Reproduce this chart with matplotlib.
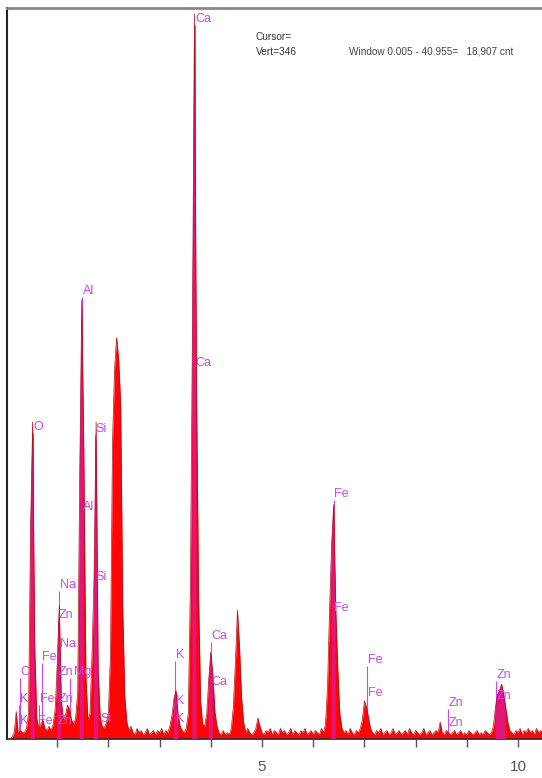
import matplotlib
matplotlib.use("Agg")
import matplotlib.pyplot as plt
from matplotlib import font_manager
import numpy as np

# ---------------- data ----------------
energy_step = 0.04  # keV per channel
# counts per channel, one row per keV (0.00 .. 10.48 keV)
counts_0 = [0, 0, 0, 1, 3, 13, 2, 4, 3, 3, 5, 12, 100, 150, 45, 10, 5, 7, 9, 5, 4, 6, 4, 7, 14]
counts_1 = [35, 63, 18, 9, 11, 16, 14, 9, 7, 10, 22, 125, 208, 135, 30, 9, 12, 40, 77, 150, 32, 10, 6, 5, 8]
counts_2 = [12, 40, 140, 175, 190, 180, 158, 62, 20, 8, 4, 6, 3, 2, 5, 3, 4, 2, 3, 5, 2, 3, 4, 2, 4]
counts_3 = [3, 5, 2, 4, 3, 6, 11, 19, 23, 12, 6, 4, 3, 5, 12, 70, 190, 343, 170, 70, 18, 7, 6, 12, 28]
counts_4 = [41, 30, 13, 6, 3, 2, 4, 2, 3, 2, 5, 15, 36, 61, 44, 20, 8, 3, 5, 3, 2, 3, 5, 10, 6]
counts_5 = [3, 2, 4, 3, 5, 2, 4, 3, 2, 5, 3, 4, 2, 3, 5, 2, 4, 3, 2, 4, 3, 5, 2, 3, 4]
counts_6 = [2, 4, 3, 2, 5, 3, 7, 25, 62, 92, 111, 62, 33, 12, 5, 3, 4, 2, 5, 3, 2, 4, 3, 5, 9]
counts_7 = [18, 15, 10, 5, 3, 2, 4, 3, 5, 2, 3, 4, 2, 3, 5, 2, 3, 4, 2, 3, 4, 2, 5, 3, 2]
counts_8 = [4, 3, 2, 3, 5, 2, 3, 4, 2, 3, 4, 3, 8, 3, 2, 4, 3, 2, 3, 4, 2, 3, 4, 2, 3]
counts_9 = [2, 4, 3, 2, 3, 4, 2, 3, 2, 4, 3, 2, 3, 6, 15, 21, 23, 26, 21, 15, 8, 4, 3, 2, 4]
counts_10 = [3, 5, 2, 4, 3, 5, 3, 4, 2, 5, 3, 4, 3]

# identified peak labels: element, line energy (keV), label height (counts)
label_text = ["Ca", "Ca", "Al", "Al", "Si", "Si", "O", "Na", "Zn", "Na", "Zn", "Mg",
              "Zn", "C", "K", "K", "Fe", "Fe", "Fe", "Zn", "Si",
              "K", "K", "K", "Ca", "Ca", "Fe", "Fe", "Fe", "Fe",
              "Zn", "Zn", "Zn", "Zn"]
label_energy = [3.69, 3.69, 1.49, 1.49, 1.74, 1.74, 0.525, 1.04, 1.01, 1.04, 1.01, 1.25,
                1.01, 0.277, 0.26, 0.26, 0.70, 0.65, 0.62, 0.99, 1.84,
                3.31, 3.31, 3.31, 4.01, 4.01, 6.40, 6.40, 7.06, 7.06,
                8.63, 8.63, 9.57, 9.57]
label_height = [338, 175, 209, 107, 144, 74, 145, 70, 56, 42, 29, 29,
                16, 29, 16, 5.7, 36, 16, 5.7, 5.7, 6.6,
                37, 15, 6.6, 46, 24, 113, 59, 34.5, 19,
                14, 4.7, 27.5, 17.5]

# highlighted (identified) peak regions, keV
highlight_ranges = [(0.48, 0.56), (1.00, 1.08), (1.44, 1.52), (1.72, 1.80),
                    (3.28, 3.36), (3.64, 3.72), (3.96, 4.04), (6.36, 6.44), (9.56, 9.76)]

tick_values = [1, 2, 3, 4, 5, 6, 7, 8, 9, 10]
tick_labels = ["", "", "", "", "5", "", "", "", "", "10"]

cursor_lines = ["Cursor=", "Vert=346"]
window_text = "Window 0.005 - 40.955=   18,907 cnt"
y_full_scale = 346

# ---------------- build ----------------
counts = np.array(counts_0 + counts_1 + counts_2 + counts_3 + counts_4 + counts_5 +
                  counts_6 + counts_7 + counts_8 + counts_9 + counts_10, dtype=float)
energy = np.arange(len(counts)) * energy_step

avail = {f.name for f in font_manager.fontManager.ttflist}
narrow = "Liberation Sans Narrow" if "Liberation Sans Narrow" in avail else "Liberation Sans"
fam = [narrow, "DejaVu Sans"]

W, H = 542, 778
fig = plt.figure(figsize=(W / 100, H / 100), dpi=100)
fig.patch.set_facecolor("white")
ax = fig.add_axes([7 / W, 39 / H, 535 / W, 731 / H])
ax.set_facecolor("white")

# marker lines (behind spectrum)
label_color = "#c94ae8"
ax.vlines(label_energy, 0, label_height, colors=label_color, lw=0.8, zorder=1)

# spectrum
ax.fill_between(energy, counts, 0, color="#ff0505", lw=0, zorder=2)
mask = np.zeros(len(energy), dtype=bool)
for lo, hi in highlight_ranges:
    mask |= (energy >= lo - 1e-9) & (energy <= hi + 1e-9)
ax.fill_between(energy, counts, 0, where=mask, color="#e3147a", lw=0, zorder=3)
ax.plot(energy, counts, color="#b0101e", lw=0.5, zorder=4)

for t, e, h in zip(label_text, label_energy, label_height):
    dx = 0.07 if t == "Mg" else 0.01
    ax.text(e + dx, h, t, color=label_color, fontsize=9, family=fam,
            ha="left", va="bottom", zorder=5)

ax.set_xlim((7 - 6) / 51.2, (542 - 6) / 51.2)
ax.set_ylim(0, y_full_scale)

ax.set_xticks(tick_values)
ax.set_xticklabels(tick_labels, family=fam, fontsize=11, color="#555555")
ax.tick_params(axis="x", direction="out", length=6, width=1, color="#555555", pad=9)
ax.set_yticks([])

ax.spines["right"].set_visible(False)
ax.spines["left"].set_color("#222222")
ax.spines["left"].set_linewidth(1.5)
ax.spines["bottom"].set_color("#333333")
ax.spines["bottom"].set_linewidth(1.2)
ax.spines["top"].set_color("#888888")
ax.spines["top"].set_linewidth(2.0)

fig.text(256 / W, 1 - 37 / H, cursor_lines[0], fontsize=7.3, family=fam, color="#333333",
         ha="left", va="center")
fig.text(256 / W, 1 - 52 / H, cursor_lines[1], fontsize=7.3, family=fam, color="#333333",
         ha="left", va="center")
fig.text(349 / W, 1 - 52 / H, window_text, fontsize=7.2, family=fam, color="#444444",
         ha="left", va="center")

fig.savefig("out.png", dpi=100, facecolor="white")
